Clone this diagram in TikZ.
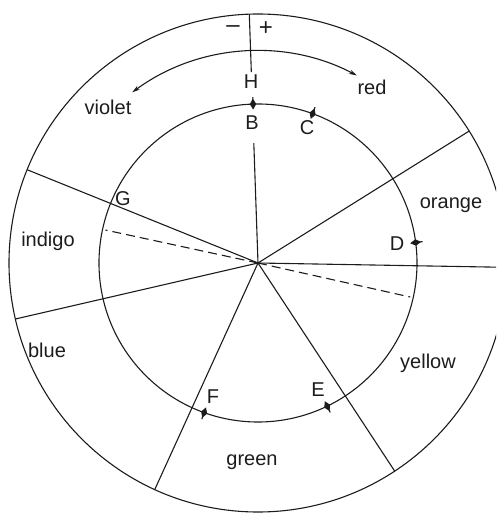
\documentclass[tikz,border=0pt]{standalone}
\usepackage{fontspec}
\setmainfont{Liberation Sans}
\usetikzlibrary{arrows.meta,calc}
\definecolor{InkBlack}{HTML}{1C1C1C}
\newcommand{\spoke}[2]{\draw[spoke] (hub) -- (#1:#2);}
\newcommand{\wheelmark}[2]{\coordinate (#2) at (#1:159);\fill[InkBlack,shift={(#2)},rotate=#1] (5.5,0) -- (0,3.2) -- (-5.5,0) -- (0,-3.2) -- cycle;\draw[spoke] (#1:156) -- (#1:166);}
\tikzset{
  spoke/.style={draw=InkBlack,line width=1.1pt},
  halfray/.style={spoke,dash pattern=on 9pt off 5pt},
  tag/.style={text=InkBlack,font=\fontsize{20}{23}\selectfont,inner sep=1pt},
  sign/.style={text=InkBlack,font=\fontsize{24}{26}\selectfont,inner sep=1pt}
}
\begin{document}
\begin{tikzpicture}[x=1pt,y=1pt]
  \useasboundingbox (-258,-251) rectangle (238,263);
  \clip (-258,-251) rectangle (238,263);
  \coordinate (hub) at (0,0);
  % rings
  \draw[spoke] (hub) circle (249);
  \draw[spoke] (hub) circle (159);
  \draw[spoke,{Stealth[length=8pt,width=4.5pt]}-{Stealth[length=8pt,width=4.5pt]}] (126.4:212) arc (126.4:62.2:212);
  % band edges
  \draw[spoke] (92:191) -- (92:249);
  \draw[spoke] (92:120) -- (hub);
  \spoke{32}{249}
  \spoke{-1}{260}
  \spoke{-56.7}{249}
  \spoke{-114.5}{249}
  \spoke{-167}{249}
  \spoke{158}{249}
  \draw[halfray] (hub) -- (-12.6:156);
  \draw[halfray] (hub) -- (167.8:156);
  % points on the inner ring
  \wheelmark{91.8}{markB}
  \wheelmark{69.9}{markC}
  \wheelmark{7.4}{markD}
  \wheelmark{-64.2}{markE}
  \wheelmark{-109.8}{markF}
  % letters
  \node[sign] (labMinus) at (-25,234) {–};
  \node[sign] (labPlus) at (8,234) {+};
  \node[tag] (labH) at (-7,181) {H};
  \node[tag] (labB) at (-6,140) {B};
  \node[tag] (labC) at (49,135) {C};
  \node[tag] (labD) at (139,19) {D};
  \node[tag] (labE) at (60,-127) {E};
  \node[tag] (labF) at (-45,-134) {F};
  \node[tag] (labG) at (-135,64) {G};
  % colour names
  \node[tag] (labViolet) at (-150,156) {violet};
  \node[tag] (labRed) at (114,176) {red};
  \node[tag] (labOrange) at (193,58) {orange};
  \node[tag] (labYellow) at (170,-100) {yellow};
  \node[tag] (labGreen) at (-6,-199) {green};
  \node[tag] (labBlue) at (-211,-87) {blue};
  \node[tag] (labIndigo) at (-210,22) {indigo};
\end{tikzpicture}
\end{document}
